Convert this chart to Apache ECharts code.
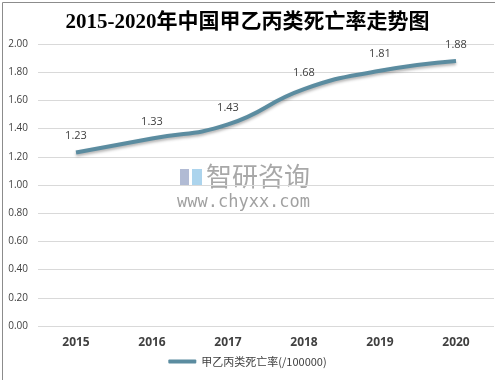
<!DOCTYPE html>
<html><head><meta charset="utf-8">
<script src="https://cdn.jsdelivr.net/npm/echarts@6/dist/echarts.min.js"></script>
<style>html,body{margin:0;padding:0;background:#fff}#c{width:495px;height:380px}</style>
</head><body><div id="c"></div>
<script>
const categories = ['2015','2016','2017','2018','2019','2020'];
const values = [1.23, 1.33, 1.43, 1.68, 1.81, 1.88];
const seriesName = '甲乙丙类死亡率(/100000)';
const titleText = '2015-2020年中国甲乙丙类死亡率走势图';

const chart = echarts.init(document.getElementById('c'), null, {renderer:'canvas'});
chart.setOption({
  animation:false,
  backgroundColor:'#fff',
  title:{text:titleText,left:'center',top:7,
    textStyle:{fontFamily:'"Liberation Serif","Noto Sans CJK SC",serif',fontWeight:'bold',fontSize:21,color:'#000'}},
  grid:{left:38,right:1,top:44,bottom:54},
  xAxis:{type:'category',data:categories,boundaryGap:true,
    axisLine:{show:false},axisTick:{show:false},
    axisLabel:{color:'#404040',fontWeight:'bold',fontSize:12,margin:11,fontFamily:'"Open Sans",sans-serif'}},
  yAxis:{type:'value',min:0,max:2,interval:0.2,
    axisLine:{show:false},axisTick:{show:false},
    splitLine:{lineStyle:{color:'#d9d9d9',width:1}},
    axisLabel:{color:'#404040',fontSize:10,margin:10,formatter:v=>v.toFixed(2),fontFamily:'"Open Sans",sans-serif'}},
  legend:{bottom:8,left:'center',itemWidth:28,itemHeight:4,icon:'roundRect',
    textStyle:{color:'#404040',fontSize:11,fontFamily:'"Noto Sans CJK SC",sans-serif'}},
  graphic:[
    {type:'rect',left:0,top:0,shape:{width:494,height:379},style:{fill:'none',stroke:'#8c8c8c',lineWidth:1},z:100},
    {type:'rect',left:180,top:169,shape:{width:9,height:17},style:{fill:'rgba(100,120,170,0.5)'},z:0},
    {type:'rect',left:192,top:169,shape:{width:10,height:17},style:{fill:'rgba(90,170,220,0.5)'},z:0},
    {type:'text',left:206,top:163,style:{text:'智研咨询',fill:'rgba(110,110,110,0.6)',font:'26px "Noto Sans CJK SC"'},z:0},
    {type:'text',left:177,top:194,style:{text:'www.chyxx.com',fill:'rgba(110,110,110,0.65)',font:'17px "DejaVu Sans Mono"'},z:0}
  ],
  series:[{name:seriesName,type:'line',data:values,smooth:true,symbol:'circle',symbolSize:0,showSymbol:true,
    lineStyle:{color:'#5b8ca0',width:4,shadowColor:'rgba(0,0,0,0.3)',shadowBlur:3,shadowOffsetY:2},
    itemStyle:{color:'#5b8ca0'},
    label:{show:true,position:'top',distance:11,fontSize:11,color:'#404040',fontFamily:'"Open Sans",sans-serif',formatter:p=>p.value.toFixed(2)}}]
});
</script></body></html>
